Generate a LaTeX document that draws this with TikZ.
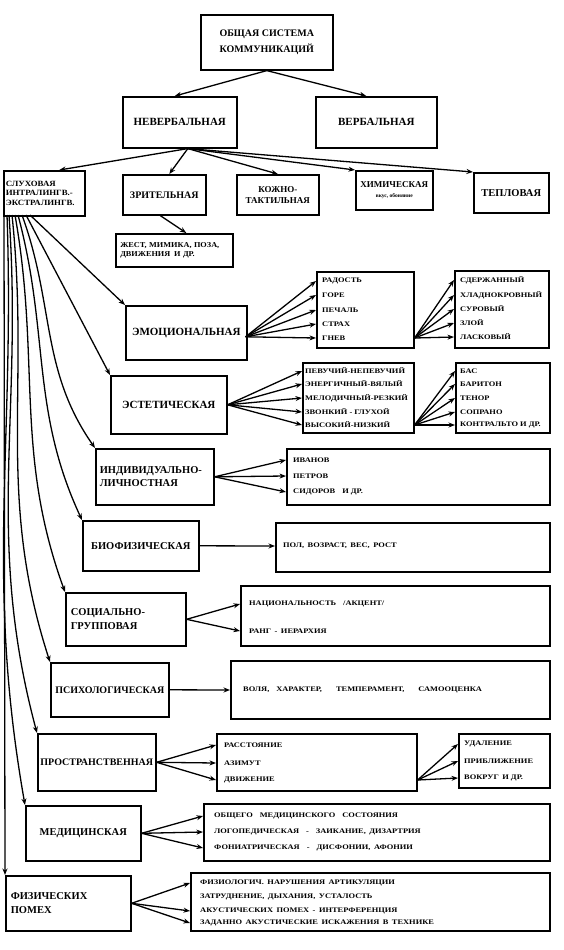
\documentclass[tikz,border=0pt]{standalone}
\usepackage{fontspec}
\setmainfont{Liberation Serif}
\newfontfamily\itf{Liberation Serif}[FakeStretch=1.2]
\newfontfamily\wdf{Liberation Serif}[FakeStretch=1.1]
\usetikzlibrary{arrows.meta,calc}
\newcommand\mkbox[7][]{\node[box,#1,minimum width={(#4-#2)*1pt},minimum height={(#5-#3)*1pt}] (#6) at (#2,#3) {#7};}
\newcommand\fs[1]{\fontsize{#1}{#1}\selectfont\bfseries}
\newcommand\fw[1]{\wdf\fontsize{#1}{#1}\selectfont\bfseries}
\begin{document}
\begin{tikzpicture}[x=1pt,y=-1pt,
  box/.style={draw, line width=1.6pt, anchor=north west, inner sep=1pt, align=center, font=\fs{10}},
  lt/.style={align=left, text width=#1, inner xsep=4pt},
  it/.style={anchor=west, inner sep=0pt, font=\itf\fontsize{7}{7}\selectfont\bfseries},
  arr/.style={-{Stealth[length=6.5pt,width=5pt]}, line width=1.3pt}]
\useasboundingbox[fill=white] (0,0) rectangle (563,950);

% ---------- boxes ----------
\mkbox{200}{14}{332}{69}{top}{ОБЩАЯ СИСТЕМА\\[5pt]КОММУНИКАЦИЙ}
\mkbox[font=\fs{11}]{122}{96}{236}{147}{nonverb}{НЕВЕРБАЛЬНАЯ}
\mkbox[font=\fs{11}]{315}{96}{436}{147}{verb}{ВЕРБАЛЬНАЯ}
\mkbox[font=\fw{8},lt=77pt,inner xsep=1.5pt]{3}{170}{84}{215}{sluh}{СЛУХОВАЯ\\[1.5pt]ИНТРАЛИНГВ.-\\[1.5pt]ЭКСТРАЛИНГВ.}
\mkbox{122}{174}{205}{214}{zrit}{ЗРИТЕЛЬНАЯ}
\mkbox[font=\fs{9}]{236}{174}{318}{214}{kozh}{КОЖНО-\\[2pt]ТАКТИЛЬНАЯ}
\mkbox[font=\fs{9}]{355}{170}{432}{209}{him}{ХИМИЧЕСКАЯ\\[1pt]{\fs{5.5}вкус, обоняние}}
\mkbox[font=\fs{10.5}]{473}{172}{548}{212}{tepl}{ТЕПЛОВАЯ}
\mkbox[font=\fw{7.5},lt=108pt]{115}{233}{232}{266}{zhest}{ЖЕСТ, МИМИКА, ПОЗА,\\[2pt]ДВИЖЕНИЯ\enspace И ДР.}

\mkbox[font=\fs{11}]{125}{305}{246}{359}{emo}{ЭМОЦИОНАЛЬНАЯ}
\mkbox{316}{271}{413}{347}{emoL}{}
\mkbox{454}{270}{548}{347}{emoC}{}
\mkbox[font=\fs{11}]{110}{375}{226}{433}{est}{ЭСТЕТИЧЕСКАЯ}
\mkbox{302}{362}{413}{432}{estL}{}
\mkbox{455}{362}{549}{432}{estV}{}
\mkbox[font=\fs{10.5},lt=110pt]{95}{448}{212}{504}{ind}{ИНДИВИДУАЛЬНО-\\[2pt]ЛИЧНОСТНАЯ}
\mkbox{286}{448}{549}{504}{indL}{}
\mkbox[font=\fs{10.5}]{82}{520}{198}{570}{bio}{БИОФИЗИЧЕСКАЯ}
\mkbox{275}{522}{549}{571}{bioL}{}
\mkbox[font=\fs{10.5},lt=110pt]{65}{592}{185}{645}{soc}{СОЦИАЛЬНО-\\[3pt]ГРУППОВАЯ}
\mkbox{240}{585}{549}{645}{socL}{}
\mkbox[font=\fs{10}]{50}{662}{168}{716}{psy}{ПСИХОЛОГИЧЕСКАЯ}
\mkbox{230}{660}{549}{718}{psyL}{}
\mkbox[font=\fs{10}]{37}{733}{155}{790}{pro}{ПРОСТРАНСТВЕННАЯ}
\mkbox{216}{733}{416}{790}{proL}{}
\mkbox{458}{733}{549}{787}{proU}{}
\mkbox[font=\fs{10.5}]{25}{805}{140}{860}{med}{МЕДИЦИНСКАЯ}
\mkbox{203}{803}{549}{860}{medL}{}
\mkbox[font=\fs{10.5},lt=115pt]{5}{875}{130}{930}{fiz}{ФИЗИЧЕСКИХ\\[3pt]ПОМЕХ}
\mkbox{190}{872}{549}{930}{fizL}{}

% ---------- items ----------
\node[it] (e1) at (322,281) {РАДОСТЬ};
\node[it] (e2) at (322,295) {ГОРЕ};
\node[it] (e3) at (322,310) {ПЕЧАЛЬ};
\node[it] (e4) at (322,324) {СТРАХ};
\node[it] (e5) at (322,338) {ГНЕВ};
\node[it] (c1) at (460,280) {СДЕРЖАННЫЙ};
\node[it] (c2) at (460,295) {ХЛАДНОКРОВНЫЙ};
\node[it] (c3) at (460,309) {СУРОВЫЙ};
\node[it] (c4) at (460,323) {ЗЛОЙ};
\node[it] (c5) at (460,337) {ЛАСКОВЫЙ};
\node[it] (a1) at (305,371) {ПЕВУЧИЙ-НЕПЕВУЧИЙ};
\node[it] (a2) at (305,384) {ЭНЕРГИЧНЫЙ-ВЯЛЫЙ};
\node[it] (a3) at (305,398) {МЕЛОДИЧНЫЙ-РЕЗКИЙ};
\node[it] (a4) at (305,412) {ЗВОНКИЙ - ГЛУХОЙ};
\node[it] (a5) at (305,425) {ВЫСОКИЙ-НИЗКИЙ};
\node[it] (v1) at (460,371) {БАС};
\node[it] (v2) at (460,384) {БАРИТОН};
\node[it] (v3) at (460,398) {ТЕНОР};
\node[it] (v4) at (460,412) {СОПРАНО};
\node[it] (v5) at (460,425) {КОНТРАЛЬТО И ДР.};
\node[it] (i1) at (293,460) {ИВАНОВ};
\node[it] (i2) at (293,476) {ПЕТРОВ};
\node[it] (i3) at (293,492) {СИДОРОВ\quad И ДР.};
\node[it] (b1) at (283,546) {ПОЛ,\enspace ВОЗРАСТ,\enspace ВЕС,\enspace РОСТ};
\node[it] (g1) at (249,604) {НАЦИОНАЛЬНОСТЬ\quad /АКЦЕНТ/};
\node[it] (g2) at (249,631) {РАНГ\enspace -\enspace ИЕРАРХИЯ};
\node[it] (p1) at (243,690) {ВОЛЯ,\quad ХАРАКТЕР,\qquad ТЕМПЕРАМЕНТ,\qquad САМООЦЕНКА};
\node[it] (r1) at (224,745) {РАССТОЯНИЕ};
\node[it] (r2) at (224,763) {АЗИМУТ};
\node[it] (r3) at (224,780) {ДВИЖЕНИЕ};
\node[it] (u1) at (464,744) {УДАЛЕНИЕ};
\node[it] (u2) at (464,761) {ПРИБЛИЖЕНИЕ};
\node[it] (u3) at (464,778) {ВОКРУГ\enspace И ДР.};
\node[it] (m1) at (214,816) {ОБЩЕГО\quad МЕДИЦИНСКОГО\quad СОСТОЯНИЯ};
\node[it] (m2) at (214,832) {ЛОГОПЕДИЧЕСКАЯ\quad -\quad ЗАИКАНИЕ,\enspace ДИЗАРТРИЯ};
\node[it] (m3) at (214,848) {ФОНИАТРИЧЕСКАЯ\quad -\quad ДИСФОНИИ,\enspace АФОНИИ};
\node[it] (f1) at (200,883) {ФИЗИОЛОГИЧ.\enspace НАРУШЕНИЯ\enspace АРТИКУЛЯЦИИ};
\node[it] (f2) at (200,897) {ЗАТРУДНЕНИЕ,\enspace ДЫХАНИЯ,\enspace УСТАЛОСТЬ};
\node[it] (f3) at (200,911) {АКУСТИЧЕСКИХ\enspace ПОМЕХ\enspace -\enspace ИНТЕРФЕРЕНЦИЯ};
\node[it] (f4) at (200,923) {ЗАДАННО\enspace АКУСТИЧЕСКИЕ\enspace ИСКАЖЕНИЯ\enspace В\enspace ТЕХНИКЕ};

% ---------- top connectors ----------
\draw[arr] (top.south) -- ($(nonverb.north)+(-5,0)$);
\draw[arr] (top.south) -- ($(verb.north)+(-10,0)$);
\coordinate (nvb) at ($(nonverb.south)+(8,0)$);
\draw[arr] (nvb) -- ($(sluh.north)+(15,0)$);
\draw[arr] (nvb) -- ($(zrit.north)+(5,0)$);
\draw[arr] (nvb) -- (kozh.north);
\draw[arr] (nvb) -- (him.north west);
\draw[arr] (nvb) -- (tepl.north west);
\draw[arr] ($(zrit.south)+(-4,0)$) -- ($(zhest.north)+(12,0)$);

% ---------- fan from СЛУХОВАЯ ----------
\coordinate (s1) at (30,215);
\coordinate (s2) at (26,215);
\coordinate (s3) at (22,215);
\coordinate (s4) at (18,215);
\coordinate (s5) at (15,215);
\coordinate (s6) at (12,215);
\coordinate (s7) at (9,215);
\coordinate (s8) at (7,215);
\coordinate (s9) at (4,215);
\draw[arr] (s1) -- (emo.north west);
\draw[arr] (s2) -- (est.north west);
\draw[arr] (s3) to[out=-70,in=125] (ind.north west);
\draw[arr] (s4) to[out=-75,in=115] (bio.north west);
\draw[arr] (s5) to[out=-80,in=110] (soc.north west);
\draw[arr] (s6) to[out=-84,in=108] (psy.north west);
\draw[arr] (s7) to[out=-86,in=105] (pro.north west);
\draw[arr] (s8) to[out=-88,in=100] (med.north west);
\draw[arr] (s9) -- (fiz.north west);

% ---------- fans to lists ----------
\coordinate (emoR) at ($(emo.east)+(-2,4)$);
\foreach \k in {e1,e2,e3,e4,e5} \draw[arr] (emoR) -- (emoL.west |- \k);
\coordinate (emoLR) at (emoL.east |- e5);
\foreach \k in {c1,c2,c3,c4,c5} \draw[arr] (emoLR) -- (emoC.west |- \k);
\coordinate (estR) at (est.east);
\foreach \k in {a1,a2,a3,a4,a5} \draw[arr] (estR) -- (estL.west |- \k);
\coordinate (estLR) at (estL.east |- a5);
\foreach \k in {v1,v2,v3,v4,v5} \draw[arr] (estLR) -- (estV.west |- \k);
\foreach \k in {i1,i2,i3} \draw[arr] (ind.east) -- (indL.west |- \k);
\draw[arr] (bio.east) -- (bioL.west |- b1);
\foreach \k in {g1,g2} \draw[arr] (soc.east) -- (socL.west |- \k);
\draw[arr] (psy.east) -- (psyL.west |- p1);
\foreach \k in {r1,r2,r3} \draw[arr] (pro.east) -- (proL.west |- \k);
\coordinate (proLR) at (proL.east |- r3);
\foreach \k in {u1,u2,u3} \draw[arr] (proLR) -- (proU.west |- \k);
\foreach \k in {m1,m2,m3} \draw[arr] (med.east) -- (medL.west |- \k);
\foreach \k in {f1,f3,f4} \draw[arr] (fiz.east) -- (fizL.west |- \k);
\end{tikzpicture}
\end{document}
